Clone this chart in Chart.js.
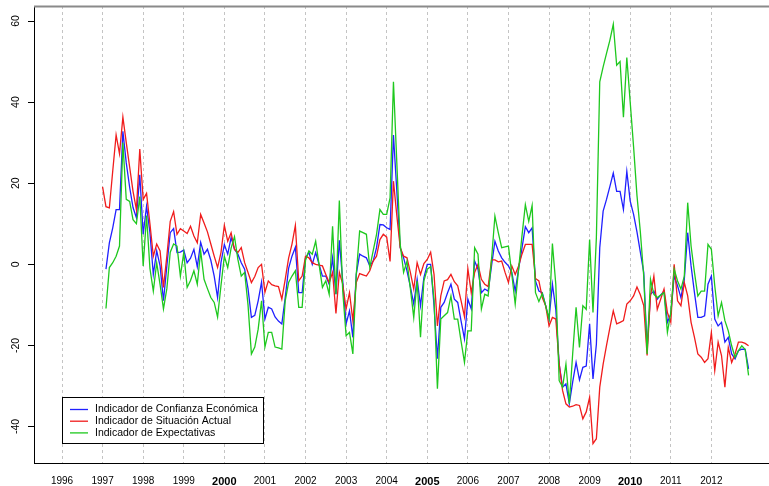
<!DOCTYPE html>
<html>
<head>
<meta charset="utf-8">
<script src="https://cdn.jsdelivr.net/npm/chart.js@4/dist/chart.umd.min.js"></script>
<style>
  html, body { margin: 0; padding: 0; background: #fff; }
  #wrap { width: 769px; height: 486px; }
</style>
</head>
<body>
<div id="wrap"><canvas id="chart" width="769" height="486"></canvas></div>
<script>
// monthly series, Jan 1997 .. Dec 2012
var startYear = 1997;
var yearTicks = [1996, 1997, 1998, 1999, 2000, 2001, 2002, 2003, 2004, 2005, 2006, 2007, 2008, 2009, 2010, 2011, 2012];
var boldYears = [2000, 2005, 2010];
var valueTicks = [-40, -20, 0, 20, 40, 60];
var seriesNames = ['Indicador de Confianza Económica', 'Indicador de Situación Actual', 'Indicador de Expectativas'];

var confianza = [
  null, -1.2, 5.3, 9, 13.5, 13.5, 32.8, 25, 19, 14, 11.5, 22.1,
  7.4, 14.3, 7.8, -2.5, 3.3, -0.4, -9, -0.4, 7.8, 8.8, 2.9, 3,
  3.5, 0.4, 1.5, 3.7, -0.6, 5.4, 2.5, 3.7, 1, -2.9, -8.2, 0.4,
  4.9, 2.5, 6.6, 3.7, 2.5, 0.4, -1.2, -6, -13.1, -12.6, -9, -4.4,
  -13.5, -10.6, -11, -13, -14, -14.7, -8.2, -1, 2, 4.2, -7, -7,
  1.5, 3, 0, 2.9, 0, -2.9, -2.9, -4.9, 1.6, -7.4, 5.9, -4.1,
  -14.7, -11.5, -18, -2.5, 2.5, 2, 1.6, -0.4, 0.8, 4.1, 9.8, 9.7,
  9, 8.6, 31.9, 18, 4.1, 1.6, -1.6, -5.5, -9.8, -3.7, -10.2, -3.3,
  0, 0, -10.2, -23.3, -10.6, -9.4, -7, -4.9, -8.6, -9.4, -14, -18.4,
  -8.6, -11, 0.8, -1.2, -7, -6.1, -6.6, -0.4, 5.7, 3.3, 1.6, 0.5,
  -0.4, -2, -6.6, -1.2, 4, 9.3, 7.8, 9, -4.1, -6.6, -7, -10.2,
  -13.5, -4.9, -11.1, -24.6, -30.3, -29.5, -34.4, -29, -24.2, -28.5, -25.4, -25.1,
  -14.7, -28.3, -19.7, 4.1, 13.1, 16, 19.2, 22.5, 18, 18, 13.5, 22.9,
  15.6, 12.3, 8, 3, -2, -20.9, -7.4, -6.6, -8.6, -7.6, -6.6, -14.3,
  -12.3, -2.9, -5.3, -8.2, -3.7, 7.8, -0.4, -7, -13.1, -13.1, -12.7, -4.9,
  -2.9, -13.5, -15.2, -14.3, -19.2, -18, -22.1, -23.3, -21.3, -20.9, -21, -25.8
];

var situacion = [
  19.1, 14.2, 13.9, 23, 31.9, 27.3, 36.3, 30, 24, 18, 13.5, 28.4,
  16, 17.5, 10, 2, 5, 3.3, -5.7, 2, 10.6, 13, 7.4, 8.8,
  8.2, 7.6, 9.4, 7, 5.3, 12.3, 10.2, 8, 5, 2, -0.8, 2.9,
  9.6, 5.7, 7.8, 3.7, 2.9, 4.1, 0.4, -2, -4.5, -3, -0.8, 0,
  -6.9, -4.1, -5, -5.3, -5.5, -8.6, -3.7, 1.5, 5, 9.6, -4.1, -2.9,
  2, 1.6, 0.4, 0, -0.2, -0.4, -2.5, -4.5, -2, -12.1, -2, -4.9,
  -11, -7, -13.9, -4.5, -2.3, -2.6, -2.9, -1.6, 0.8, 2, 6.1, 7.4,
  6.7, 0.7, 20.5, 12, 4.1, 2, 1.6, -2, -6.1, 0.4, -2.5, 0.2,
  1.2, 3, -2.5, -15.2, -7.8, -4.1, -3.8, -2.5, -4.3, -5.3, -9, -12.9,
  -1.1, -7, -2, 0, -3.7, -4.9, -5.5, 1.1, 1.1, 0.6, 0.8, -2,
  -4.5, -0.4, -2.5, -0.4, 2.5, 4.9, 4.9, 4.9, -3.5, -4.1, -8.2, -10.2,
  -15.2, -13.1, -13.5, -24.6, -31.1, -34.4, -35.2, -35, -34.6, -34.8, -38.1, -36.4,
  -32.8, -44.2, -43, -30.3, -24.6, -20, -15.6, -11.5, -14.7, -14.3, -13.9, -9.8,
  -9, -7.8, -5.6, -7.5, -10.2, -22.5, -7.8, -2.9, -11.1, -8.6, -6.1, -11.9,
  -14.3, 0, -9, -10.2, -4.5, -7.8, -14.3, -18, -22.1, -22.9, -24.2, -23.3,
  -16.8, -26.2, -19.2, -22.5, -30.3, -20.5, -24.2, -22.1, -19.2, -19.2, -19.5, -20.1
];

var expectativas = [
  null, -10.9, -0.8, 0.4, 2, 4.5, 30, 16, 15.5, 11, 10, 16.7,
  -0.4, 12, -1, -6.6, 0.4, -5, -11, -6, 3, 5, 4.5, -2.9,
  2.9, -5.7, -4, -1.6, -4.9, 3.3, -3.7, -6, -8.2, -9.4, -13, -5.3,
  2, -0.8, 4, 6.8, 1.2, -2.9, -2, -10, -22.1, -20.4, -16, -9,
  -20.4, -16.8, -16.8, -20.4, -20.6, -20.9, -9, -4.5, -2.9, -1.6, -10.6, -10.6,
  1, 3.3, 2.5, 5.7, 0, -5.7, -4.1, -7.4, 9.4, -7.4, 15.7, -6.6,
  -17.6, -16.8, -22.1, -2.5, 8.2, 7.8, 7.4, -0.8, 3.3, 7.4, 13.5, 12.3,
  12.3, 16.4, 45, 25, 4.9, -2, 0.8, -6, -13.1, -4.1, -18, -4.1,
  -1.2, -0.6, -8.6, -30.7, -13.5, -12.7, -11.9, -7.8, -13.5, -13.5, -19, -24.2,
  -16.4, -16.4, 4.1, 2.5, -11, -7.4, -7.8, 1.2, 11.9, 7.8, 4.1, 4.3,
  4.5, -2.5, -9.8, -1.2, 7, 14.7, 10.6, 14.5, -7, -9.2, -7.2, -10.2,
  -13.5, 5.1, -4.9, -28.7, -30.3, -24.6, -34.4, -22, -10.6, -20.5, -10.2, -11.1,
  6.1, -11.9, 6.6, 45, 48.7, 52, 55.3, 59.2, 49.1, 50, 36.3, 51,
  40, 29, 17, 8, -2.9, -22.1, -3.7, -7.4, -8.2, -7.6, -7, -16.8,
  -11.9, -1.2, -4.1, -6.1, -2.9, 15.2, 4.5, -2, -7.8, -6.6, -6.6, 4.9,
  3.7, -5.3, -12.7, -9.4, -13.9, -16.4, -20.1, -22.9, -21.3, -20.1, -21, -27.4
];

var colors = ['#2020ff', '#f01c1c', '#1ec81e'];
var FONT = 'Liberation Sans, Arial, sans-serif';

function toPoints(arr) {
  return arr.map(function(v, i) { return { x: startYear + i / 12, y: v }; });
}

// R-style box legend in the lower left of the plot
var boxLegend = {
  id: 'boxLegend',
  afterDraw: function(chart) {
    var ctx = chart.ctx, area = chart.chartArea;
    var left = area.left + 28, top = area.bottom - 66, w = 201, h = 46;
    ctx.save();
    ctx.fillStyle = '#fff';
    ctx.fillRect(left, top, w, h);
    ctx.strokeStyle = '#000';
    ctx.lineWidth = 1;
    ctx.strokeRect(left + 0.5, top + 0.5, w, h);
    ctx.font = '10.5px ' + FONT;
    ctx.textBaseline = 'middle';
    ctx.fillStyle = '#000';
    chart.data.datasets.forEach(function(ds, i) {
      var y = top + 12.5 + i * 11.7;
      ctx.strokeStyle = ds.borderColor;
      ctx.lineWidth = 1.3;
      ctx.beginPath();
      ctx.moveTo(left + 8, y);
      ctx.lineTo(left + 26, y);
      ctx.stroke();
      ctx.fillText(ds.label, left + 33, y);
    });
    ctx.restore();
  }
};

// grey top edge of the plot box
var topEdge = {
  id: 'topEdge',
  afterDraw: function(chart) {
    var ctx = chart.ctx, area = chart.chartArea;
    ctx.save();
    ctx.strokeStyle = '#8a8a8a';
    ctx.lineWidth = 2;
    ctx.beginPath();
    ctx.moveTo(area.left, area.top + 0.5);
    ctx.lineTo(area.right, area.top + 0.5);
    ctx.stroke();
    ctx.restore();
  }
};

new Chart(document.getElementById('chart'), {
  type: 'line',
  data: {
    datasets: [
      { label: seriesNames[0], data: toPoints(confianza), borderColor: colors[0], order: 3 },
      { label: seriesNames[1], data: toPoints(situacion), borderColor: colors[1], order: 2 },
      { label: seriesNames[2], data: toPoints(expectativas), borderColor: colors[2], order: 1 }
    ]
  },
  options: {
    responsive: false,
    animation: false,
    devicePixelRatio: 1,
    layout: { padding: { top: 6, right: 0, bottom: 0, left: 0 } },
    elements: {
      line: { borderWidth: 1.3, tension: 0, fill: false },
      point: { radius: 0 }
    },
    plugins: { legend: { display: false }, tooltip: { enabled: false } },
    scales: {
      x: {
        type: 'linear',
        min: 1995.31,
        max: 2013.42,
        afterBuildTicks: function(s) { s.ticks = yearTicks.map(function(v) { return { value: v }; }); },
        afterFit: function(s) { s.height = 23; s.paddingLeft = 0; s.paddingRight = 0; },
        grid: { color: '#c4c4c4', lineWidth: 1, drawTicks: false },
        border: { color: '#000', width: 1, dash: [3, 3] },
        ticks: {
          color: '#000',
          padding: 12,
          maxRotation: 0,
          autoSkip: false,
          font: function(c) {
            var b = c.tick && boldYears.indexOf(c.tick.value) >= 0;
            return { family: FONT, size: b ? 11 : 10, weight: b ? 'bold' : 'normal' };
          },
          callback: function(v) { return String(v); }
        }
      },
      y: {
        min: -49,
        max: 63.7,
        afterBuildTicks: function(s) { s.ticks = valueTicks.map(function(v) { return { value: v }; }); },
        afterFit: function(s) { s.width = 34; s.paddingTop = 0; s.paddingBottom = 0; },
        grid: { drawOnChartArea: false, drawTicks: true, tickLength: 6, color: '#000' },
        border: { color: '#000', width: 1 },
        ticks: {
          color: '#000',
          minRotation: 90,
          maxRotation: 90,
          crossAlign: 'center',
          padding: 4,
          font: { family: FONT, size: 10.5 },
          callback: function(v) { return String(v); }
        }
      }
    }
  },
  plugins: [boxLegend, topEdge]
});
</script>
</body>
</html>
